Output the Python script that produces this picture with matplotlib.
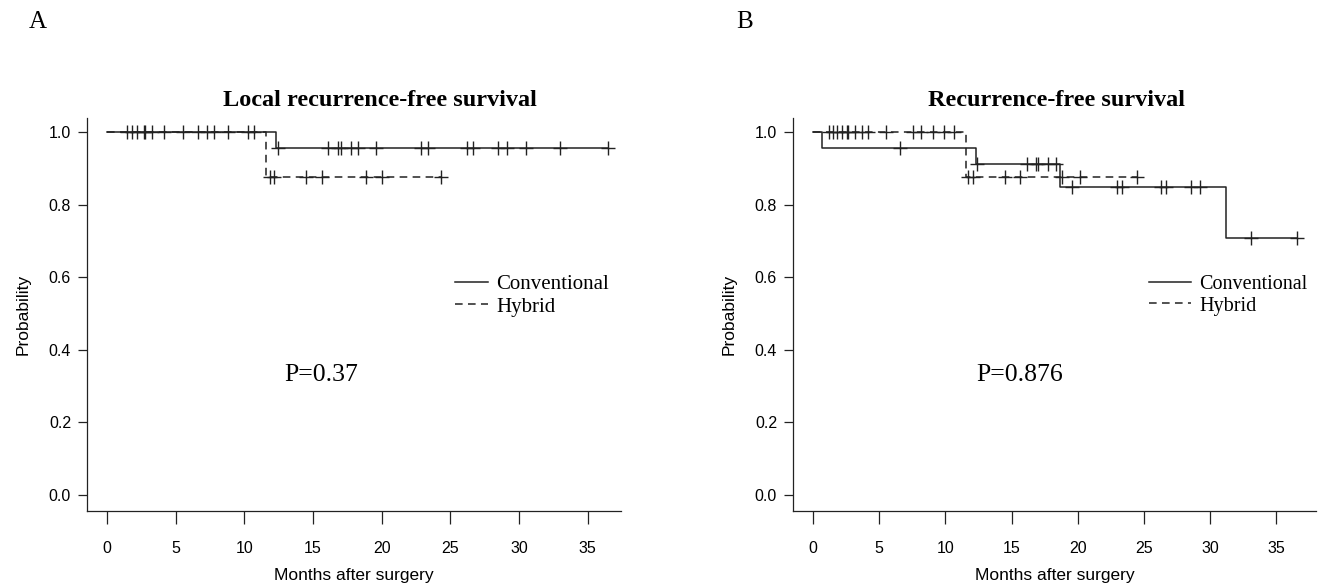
import numpy as np
import matplotlib
matplotlib.use("Agg")
import matplotlib.pyplot as plt

# ---------------- data ----------------
# Panel A: Local recurrence-free survival
A_conv_event_t = [12.3]
A_conv_event_s = [0.957]
A_conv_censor = [6.60, 12.43, 16.12, 16.85, 17.04, 17.77, 18.30, 19.56, 22.87, 23.35,
                 26.24, 26.63, 28.45, 29.15, 30.49, 32.99, 36.5]
A_hyb_event_t = [11.56]
A_hyb_event_s = [0.875]
A_hyb_censor = [1.48, 1.80, 2.16, 2.67, 2.77, 3.30, 4.15, 5.56, 7.26, 7.79, 8.79,
                10.25, 10.73, 11.87, 12.19, 14.47, 15.68, 18.84, 20.0, 24.32]

# Panel B: Recurrence-free survival
B_conv_event_t = [0.66, 12.31, 18.67, 31.2]
B_conv_event_s = [0.957, 0.913, 0.848, 0.707]
B_conv_censor = [6.58, 12.37, 16.15, 16.86, 17.03, 17.79, 18.37, 19.55, 22.95, 23.33,
                 26.28, 26.68, 28.55, 29.25, 33.08, 36.6]
B_hyb_event_t = [11.54]
B_hyb_event_s = [0.875]
B_hyb_censor = [1.23, 1.54, 1.84, 2.17, 2.55, 2.67, 3.17, 3.68, 4.18, 5.52, 7.53,
                8.14, 9.1, 9.9, 10.66, 11.74, 12.1, 14.5, 15.65, 18.8, 20.18, 24.47]

titles = ["Local recurrence-free survival", "Recurrence-free survival"]
panel_letters = ["A", "B"]
p_values = ["P=0.37", "P=0.876"]
legend_labels = ["Conventional", "Hybrid"]
x_ticks = [0, 5, 10, 15, 20, 25, 30, 35]
y_ticks = [0.0, 0.2, 0.4, 0.6, 0.8, 1.0]

# ---------------- styling ----------------
SANS = "Liberation Sans"
SERIF = "Liberation Serif"
LC = "#222222"

fig = plt.figure(figsize=(13.18, 5.85), dpi=100)


def km_curve(ev_t, ev_s, end_t):
    t = np.concatenate([[0.0], np.asarray(ev_t, float), [end_t]])
    s = np.concatenate([[1.0], np.asarray(ev_s, float), [ev_s[-1]]])
    return t, s


def surv_at(ev_t, ev_s, times):
    ev_t = np.asarray(ev_t, float)
    ev_s = np.asarray(ev_s, float)
    out = []
    for x in times:
        idx = np.searchsorted(ev_t, x, side="right") - 1
        out.append(1.0 if idx < 0 else ev_s[idx])
    return np.array(out)


def draw_panel(ax, conv, hyb, xlim, title, letter, pval, legend_cfg, title_x, letter_x):
    (ce_t, ce_s, cc), (he_t, he_s, hc) = conv, hyb
    # hybrid (dashed)
    t, s = km_curve(he_t, he_s, max(hc))
    ax.step(t, s, where="post", color=LC, lw=1.1, dashes=(5, 3.5), label=legend_labels[1], zorder=2)
    ax.plot(hc, surv_at(he_t, he_s, hc), ls="none", marker="+", ms=9.5, mew=1.0, color=LC, zorder=3)
    # conventional (solid)
    t, s = km_curve(ce_t, ce_s, max(cc))
    ax.step(t, s, where="post", color=LC, lw=1.1, label=legend_labels[0], zorder=2)
    ax.plot(cc, surv_at(ce_t, ce_s, cc), ls="none", marker="+", ms=9.5, mew=1.0, color=LC, zorder=3)

    ax.set_xlim(*xlim)
    ax.set_ylim(-0.044, 1.04)
    ax.set_xticks(x_ticks)
    ax.set_yticks(y_ticks)
    ax.set_xticklabels([str(v) for v in x_ticks], fontfamily=SANS, fontsize=11.5)
    ax.set_yticklabels([f"{v:.1f}" for v in y_ticks], fontfamily=SANS, fontsize=11.5)
    ax.tick_params(axis="x", length=9, width=0.9, pad=12.5, color=LC)
    ax.tick_params(axis="y", length=6.5, width=0.9, pad=5, color=LC)
    for sp in ["top", "right"]:
        ax.spines[sp].set_visible(False)
    for sp in ["left", "bottom"]:
        ax.spines[sp].set_linewidth(0.9)
        ax.spines[sp].set_color(LC)
    ax.set_xlabel("Months after surgery", fontfamily=SANS, fontsize=12.5, labelpad=9)
    ax.set_ylabel("Probability", fontfamily=SANS, fontsize=12.5, labelpad=13)

    ax.text(15.6, 0.33, pval, fontfamily=SERIF, fontsize=18.5, ha="center", va="center")

    handles, labels = ax.get_legend_handles_labels()
    order = [labels.index(l) for l in legend_labels]
    ax.legend([handles[i] for i in order], [labels[i] for i in order],
              loc="upper left", bbox_to_anchor=legend_cfg["anchor"], frameon=False,
              prop={"family": SERIF, "size": legend_cfg["fs"]}, handlelength=legend_cfg["hl"],
              handletextpad=0.4, labelspacing=0.12, borderaxespad=0, borderpad=0)

    fig.text(title_x, 1 - 100 / 585, title, fontfamily=SERIF, fontweight="bold",
             fontsize=17.5, ha="center", va="center")
    fig.text(letter_x, 1 - 22 / 585, letter, fontfamily=SERIF, fontsize=18,
             ha="center", va="center")


H = 585.0
W = 1318.0
bottom = (H - 511) / H
height = (511 - 117.5) / H

axA = fig.add_axes([87 / W, bottom, (621 - 87) / W, height])
axB = fig.add_axes([793 / W, bottom, (1316 - 793) / W, height])

draw_panel(axA,
           (A_conv_event_t, A_conv_event_s, A_conv_censor),
           (A_hyb_event_t, A_hyb_event_s, A_hyb_censor),
           (-1.457, 37.44), titles[0], panel_letters[0], p_values[0],
           {"anchor": (0.69, 0.60), "hl": 1.55, "fs": 15}, 380 / W, 38 / W)
draw_panel(axB,
           (B_conv_event_t, B_conv_event_s, B_conv_censor),
           (B_hyb_event_t, B_hyb_event_s, B_hyb_censor),
           (-1.51, 38.0), titles[1], panel_letters[1], p_values[1],
           {"anchor": (0.68, 0.60), "hl": 2.1, "fs": 14.5}, 1057 / W, 745 / W)

fig.savefig("out.png", dpi=100)
